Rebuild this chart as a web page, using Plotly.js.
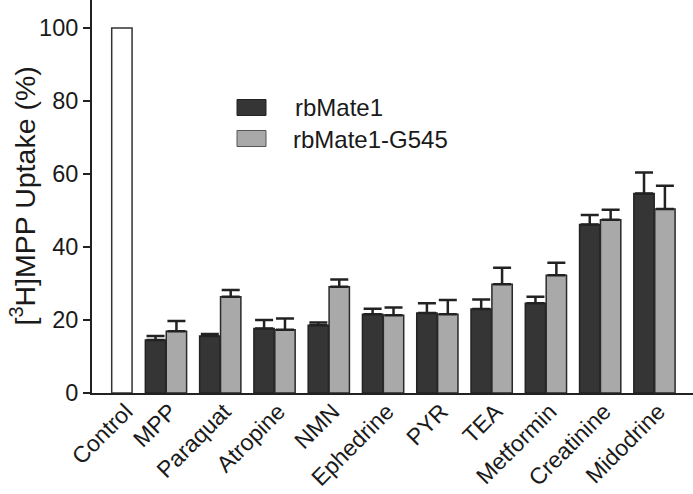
<!DOCTYPE html>
<html>
<head>
<meta charset="utf-8">
<script src="https://cdn.plot.ly/plotly-3.0.1.min.js"></script>
<style>html,body{margin:0;padding:0;background:#fff;}#chart{width:693px;height:494px;}</style>
</head>
<body>
<div id="chart"></div>
<script>
const categories = ['Control','MPP','Paraquat','Atropine','NMN','Ephedrine','PYR','TEA','Metformin','Creatinine','Midodrine'];
const controlValue = [100];
const rbMate1 = [14.5, 15.6, 17.7, 18.6, 21.6, 21.9, 23.0, 24.6, 46.2, 54.7];
const rbMate1Err = [1.1, 0.6, 2.3, 0.7, 1.5, 2.7, 2.6, 1.8, 2.6, 5.7];
const rbMate1G545 = [16.9, 26.4, 17.3, 29.1, 21.3, 21.6, 29.8, 32.3, 47.5, 50.4];
const rbMate1G545Err = [2.8, 1.8, 3.1, 2.0, 2.1, 3.9, 4.5, 3.4, 2.7, 6.4];
const seriesNames = ['rbMate1', 'rbMate1-G545'];
const yTicks = [0, 20, 40, 60, 80, 100];

const FONT = '"Liberation Sans", Arial, Helvetica, sans-serif';
const BW = 0.375;
const drugIdx = categories.slice(1).map((c, i) => i + 1);
const zeros = rbMate1.map(() => 0);

const traces = [
  {
    type: 'bar', name: 'Control', x: [0], y: controlValue,
    width: BW, offset: 0,
    marker: {color: '#ffffff', line: {color: '#333333', width: 1.5}},
    showlegend: false, hoverinfo: 'x+y'
  },
  {
    type: 'bar', name: seriesNames[0], x: drugIdx, y: rbMate1,
    width: BW, offset: -0.38,
    marker: {color: '#353535', line: {color: '#222222', width: 1.5}},
    error_y: {type: 'data', symmetric: false, array: rbMate1Err, arrayminus: zeros,
              color: '#222222', thickness: 2.5, width: 9},
    showlegend: false
  },
  {
    type: 'bar', name: seriesNames[1], x: drugIdx, y: rbMate1G545,
    width: BW, offset: 0.005,
    marker: {color: '#a9a9a9', line: {color: '#2a2a2a', width: 1.5}},
    error_y: {type: 'data', symmetric: false, array: rbMate1G545Err, arrayminus: zeros,
              color: '#222222', thickness: 2.5, width: 9},
    showlegend: false
  }
];

const tickPositions = categories.map((c, i) => i === 0 ? BW / 2 : i);

const toPX = px => (px - 92) / 601;
const toPY = py => (393 - py) / 393;

const layout = {
  width: 693, height: 494,
  margin: {l: 92, r: 0, t: 0, b: 101, pad: 0},
  paper_bgcolor: '#ffffff', plot_bgcolor: '#ffffff',
  font: {family: FONT, color: '#1a1a1a', size: 24},
  barmode: 'overlay',
  showlegend: false,
  xaxis: {
    range: [-0.363, 10.71],
    tickmode: 'array', tickvals: tickPositions, ticktext: categories,
    tickangle: -45, ticks: '', showgrid: false, zeroline: false,
    ticklabelstandoff: -6, ticklabelshift: 4,
    showline: true, linecolor: '#222222', linewidth: 2,
    tickfont: {family: FONT, size: 23, color: '#1a1a1a'}
  },
  yaxis: {
    range: [0, 107.7],
    tickmode: 'array', tickvals: yTicks,
    ticks: 'outside', ticklen: 7, tickwidth: 1.5, tickcolor: '#222222',
    showgrid: false, zeroline: false,
    showline: true, linecolor: '#222222', linewidth: 2,
    tickfont: {family: FONT, size: 23.5, color: '#1a1a1a'}
  },
  shapes: [
    {type: 'rect', xref: 'paper', yref: 'paper', x0: toPX(237), x1: toPX(266), y0: toPY(115.5), y1: toPY(99.5),
     fillcolor: '#353535', line: {color: '#222222', width: 1}},
    {type: 'rect', xref: 'paper', yref: 'paper', x0: toPX(237), x1: toPX(266), y0: toPY(146.5), y1: toPY(130.5),
     fillcolor: '#a9a9a9', line: {color: '#555555', width: 1}}
  ],
  annotations: [
    {xref: 'paper', yref: 'paper', x: toPX(293), y: toPY(107), xanchor: 'left', yanchor: 'middle',
     text: seriesNames[0], showarrow: false, font: {family: FONT, size: 24, color: '#1a1a1a'}},
    {xref: 'paper', yref: 'paper', x: toPX(291), y: toPY(139), xanchor: 'left', yanchor: 'middle',
     text: seriesNames[1], showarrow: false, font: {family: FONT, size: 24, color: '#1a1a1a'}},
    {xref: 'paper', yref: 'paper', x: toPX(23), y: 0.5, xanchor: 'center', yanchor: 'middle',
     textangle: -90, text: '[<sup>3</sup>H]MPP Uptake (%)', showarrow: false,
     font: {family: FONT, size: 28.5, color: '#1a1a1a'}}
  ]
};

Plotly.newPlot('chart', traces, layout, {displayModeBar: false, staticPlot: true});
</script>
</body>
</html>
